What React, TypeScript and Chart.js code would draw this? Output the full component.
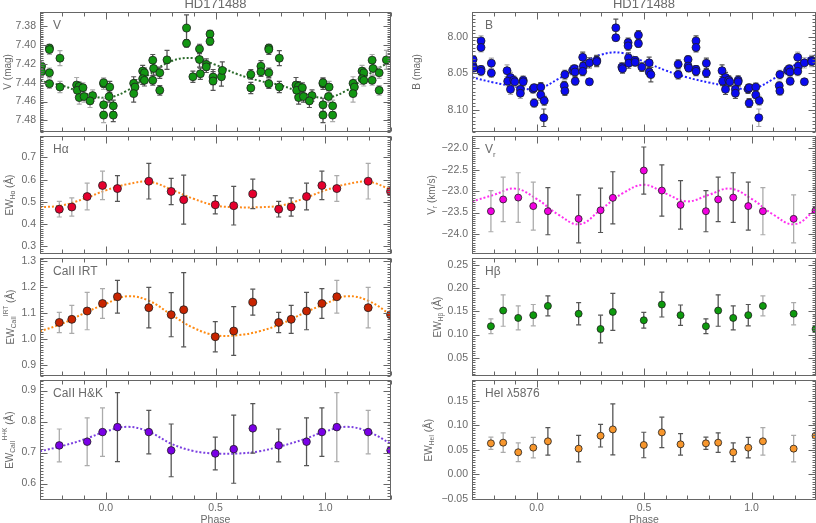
import React, { useEffect, useRef } from 'react';
import { Chart, registerables } from 'chart.js';

Chart.register(...registerables);

const X_MIN = -0.3;
const X_MAX = 1.3;
const FONT = '"Liberation Sans", Arial, sans-serif';
const TXT = '#6a6a6a';
const AXIS = '#666666';

// ---------- photometry (one rotation, folded in phase) ----------
const vPhase = [
  0.990, 0.990, 0.990, 0.990, 0.018, 0.015, 0.034, 0.034, 0.127, 0.133, 0.127,
  0.168, 0.176, 0.168, 0.176, 0.214, 0.218, 0.214, 0.246, 0.246, 0.279,
  0.368, 0.368, 0.397, 0.427, 0.427, 0.431, 0.458, 0.458, 0.475, 0.475,
  0.489, 0.489, 0.527, 0.531, 0.661, 0.661, 0.707, 0.707, 0.743, 0.743,
  0.743, 0.743, 0.791, 0.791, 0.867, 0.878, 0.870, 0.896, 0.879, 0.901,
  0.940, 0.928,
];
const vMag = [
  7.4411, 7.4400, 7.4635, 7.4744, 7.4446, 7.4547, 7.4646, 7.4744, 7.4407, 7.4446, 7.4516,
  7.4277, 7.4295, 7.4358, 7.4375, 7.4161, 7.4249, 7.4375, 7.4295, 7.4481, 7.4158,
  7.3821, 7.3982, 7.4337, 7.4042, 7.4154, 7.4305, 7.4207, 7.4232, 7.3884, 7.3961,
  7.4340, 7.4382, 7.4337, 7.4270, 7.4312, 7.4456, 7.4225, 7.4284, 7.4032, 7.4049,
  7.4295, 7.4411, 7.4140, 7.4446, 7.4425, 7.4439, 7.4481, 7.4453, 7.4558, 7.4547,
  7.4537, 7.4593,
];
const vErr = [
  0.006, 0.005, 0.007, 0.008, 0.006, 0.006, 0.006, 0.007, 0.007, 0.008, 0.009,
  0.006, 0.005, 0.006, 0.006, 0.006, 0.007, 0.005, 0.006, 0.005, 0.010,
  0.014, 0.004, 0.006, 0.005, 0.008, 0.006, 0.006, 0.006, 0.004, 0.004,
  0.008, 0.010, 0.010, 0.009, 0.005, 0.006, 0.006, 0.005, 0.004, 0.005,
  0.005, 0.005, 0.008, 0.006, 0.008, 0.005, 0.006, 0.005, 0.007, 0.006,
  0.006, 0.007,
];

const bPhase = [
  0.984, 0.989, 0.020, 0.020, 0.036, 0.989, 0.034, 0.132, 0.129, 0.132,
  0.168, 0.176, 0.179, 0.180, 0.215, 0.218, 0.215, 0.246, 0.246, 0.280,
  0.280, 0.369, 0.369, 0.397, 0.400, 0.426, 0.426, 0.428, 0.429, 0.459,
  0.459, 0.474, 0.474, 0.490, 0.524, 0.524, 0.532, 0.659, 0.659, 0.705,
  0.705, 0.708, 0.742, 0.742, 0.742, 0.742, 0.790, 0.790, 0.863, 0.879,
  0.866, 0.894, 0.899, 0.879, 0.925, 0.938, 0.938, 0.925,
];
const bMag = [
  8.0715, 8.0697, 8.0688, 8.0796, 8.0876, 8.0908, 8.1109, 8.0518, 8.0670, 8.0742,
  8.0460, 8.0437, 8.0482, 8.0608, 8.0280, 8.0401, 8.0473, 8.0357, 8.0616, 8.0325,
  8.0339, 7.9877, 8.0012, 8.0415, 8.0437, 8.0079, 8.0124, 8.0289, 8.0361, 8.0325,
  8.0348, 7.9976, 8.0092, 8.0415, 8.0357, 8.0482, 8.0518, 8.0375, 8.0518, 8.0312,
  8.0401, 8.0428, 8.0056, 8.0146, 8.0446, 8.0473, 8.0361, 8.0496, 8.0464, 8.0558,
  8.0608, 8.0594, 8.0616, 8.0720, 8.0720, 8.0594, 8.0616, 8.0773,
];
const bErr = [
  0.006, 0.005, 0.006, 0.007, 0.006, 0.006, 0.012, 0.006, 0.006, 0.006,
  0.006, 0.005, 0.006, 0.005, 0.007, 0.008, 0.006, 0.007, 0.004, 0.007,
  0.007, 0.012, 0.004, 0.006, 0.006, 0.006, 0.006, 0.007, 0.007, 0.005,
  0.005, 0.006, 0.005, 0.006, 0.008, 0.006, 0.010, 0.006, 0.006, 0.005,
  0.006, 0.005, 0.007, 0.006, 0.005, 0.006, 0.007, 0.006, 0.008, 0.007,
  0.006, 0.006, 0.006, 0.007, 0.006, 0.006, 0.006, 0.007,
];

// ---------- spectra ----------
const specPhase = [0.053, 0.196, 0.298, 0.355, 0.499, 0.583, 0.670, 0.788, 0.845, 0.915, 0.985];
const hkPhase = [0.053, 0.196, 0.298, 0.499, 0.583, 0.670, 0.788, 0.915, 0.985];

const haEW = [0.560, 0.593, 0.547, 0.510, 0.487, 0.483, 0.536, 0.467, 0.477, 0.524, 0.574];
const haErr = [0.058, 0.080, 0.059, 0.110, 0.041, 0.087, 0.066, 0.035, 0.041, 0.060, 0.064];

const irtEW = [1.164, 1.122, 1.095, 1.114, 1.010, 1.032, 1.143, 1.065, 1.077, 1.109, 1.138];
const irtErr = [0.063, 0.078, 0.085, 0.143, 0.058, 0.094, 0.050, 0.039, 0.054, 0.072, 0.057];

const hkEW = [0.782, 0.766, 0.707, 0.697, 0.711, 0.778, 0.723, 0.735, 0.766];
const hkErr = [0.111, 0.070, 0.085, 0.053, 0.110, 0.080, 0.053, 0.077, 0.078];

const vrKms = [-23.468, -23.647, -23.446, -23.156, -22.517, -22.985, -23.320, -23.468, -23.193, -23.149, -23.349];
const vrErr = [0.55, 0.56, 0.52, 0.61, 0.55, 0.60, 0.565, 0.48, 0.52, 0.58, 0.56];

const hbEW = [0.162, 0.145, 0.112, 0.149, 0.131, 0.165, 0.142, 0.118, 0.152, 0.136, 0.142];
const hbErr = [0.0215, 0.024, 0.030, 0.040, 0.017, 0.027, 0.022, 0.016, 0.034, 0.026, 0.023];

const heEW = [0.0676, 0.0527, 0.079, 0.0919, 0.0601, 0.0858, 0.0615, 0.0635, 0.0649, 0.0453, 0.0547];
const heErr = [0.028, 0.027, 0.023, 0.052, 0.026, 0.031, 0.022, 0.0125, 0.020, 0.019, 0.021];

// ---------- fitted curves, read at phase steps of 0.1 ----------
const fitPhase = [0, 0.1, 0.2, 0.3, 0.4, 0.5, 0.6, 0.7, 0.8, 0.9];
const vFit = [7.456, 7.448, 7.431, 7.417, 7.414, 7.421, 7.431, 7.438, 7.443, 7.451];
const bFit = [8.0715, 8.058, 8.0388, 8.0245, 8.0222, 8.034, 8.046, 8.0555, 8.0625, 8.068];
const haFit = [0.552, 0.580, 0.590, 0.555, 0.514, 0.484, 0.476, 0.476, 0.484, 0.514];
const irtFit = [1.137, 1.166, 1.147, 1.094, 1.044, 1.016, 1.016, 1.031, 1.060, 1.100];
const hkFit = [0.768, 0.783, 0.766, 0.728, 0.705, 0.697, 0.697, 0.704, 0.721, 0.742];
const vrFit = [-23.178, -23.543, -23.773, -23.424, -23.052, -22.851, -23.052, -23.238, -23.089, -22.94];

type Rich = { t: string; s?: 'sub' | 'sup' }[];

interface PanelDef {
  col: number;
  row: number;
  phase: number[];
  values: number[];
  errors: number[];
  fit?: number[];
  yMin: number;
  yMax: number;
  yStep: number;
  decimals: number;
  reverse?: boolean;
  color: string;
  fitColor?: string;
  radius: number;
  label: Rich;
  yTitle: Rich;
  yTitleX: number;
  title?: string;
}

const COLS = [
  { left: 0, width: 400, yAxisW: 40, padRight: 9 },
  { left: 400, width: 424, yAxisW: 72, padRight: 8 },
];
const ROWS = [
  [12, 134],
  [134, 256],
  [256, 378],
  [378, 500],
];

const PANELS: PanelDef[] = [
  {
    col: 0, row: 0, phase: vPhase, values: vMag, errors: vErr, fit: vFit,
    yMin: 7.365, yMax: 7.492, yStep: 0.02, decimals: 2, reverse: true,
    color: '#129612', fitColor: '#2b6b2b', radius: 4,
    label: [{ t: 'V' }], yTitle: [{ t: 'V (mag)' }], yTitleX: 8, title: 'HD171488',
  },
  {
    col: 0, row: 1, phase: specPhase, values: haEW, errors: haErr, fit: haFit,
    yMin: 0.267, yMax: 0.795, yStep: 0.1, decimals: 1,
    color: '#e5002d', fitColor: '#ff8a1c', radius: 4,
    label: [{ t: 'Hα' }], yTitle: [{ t: 'EW' }, { t: 'Hα', s: 'sub' }, { t: ' (Å)' }], yTitleX: 10,
  },
  {
    col: 0, row: 2, phase: specPhase, values: irtEW, errors: irtErr, fit: irtFit,
    yMin: 0.86, yMax: 1.312, yStep: 0.1, decimals: 1,
    color: '#c82400', fitColor: '#ff8a10', radius: 4,
    label: [{ t: 'CaII IRT' }],
    yTitle: [{ t: 'EW' }, { t: 'CaII', s: 'sub' }, { t: 'IRT', s: 'sup' }, { t: ' (Å)' }], yTitleX: 11,
  },
  {
    col: 0, row: 3, phase: hkPhase, values: hkEW, errors: hkErr, fit: hkFit,
    yMin: 0.547, yMax: 0.933, yStep: 0.1, decimals: 1,
    color: '#7a00e6', fitColor: '#7b3fe0', radius: 3.8,
    label: [{ t: 'CaII H&K' }],
    yTitle: [{ t: 'EW' }, { t: 'CaII', s: 'sub' }, { t: 'H+K', s: 'sup' }, { t: ' (Å)' }], yTitleX: 10,
  },
  {
    col: 1, row: 0, phase: bPhase, values: bMag, errors: bErr, fit: bFit,
    yMin: 7.966, yMax: 8.13, yStep: 0.05, decimals: 2, reverse: true,
    color: '#0a0af0', fitColor: '#2323ff', radius: 4,
    label: [{ t: 'B' }], yTitle: [{ t: 'B (mag)' }], yTitleX: 17, title: 'HD171488',
  },
  {
    col: 1, row: 1, phase: specPhase, values: vrKms, errors: vrErr, fit: vrFit,
    yMin: -24.461, yMax: -21.717, yStep: 0.5, decimals: 1,
    color: '#f200e0', fitColor: '#ff30f0', radius: 3.5,
    label: [{ t: 'V' }, { t: 'r', s: 'sub' }],
    yTitle: [{ t: 'V' }, { t: 'r', s: 'sub' }, { t: ' (km/s)' }], yTitleX: 32,
  },
  {
    col: 1, row: 2, phase: specPhase, values: hbEW, errors: hbErr,
    yMin: 0.011, yMax: 0.265, yStep: 0.05, decimals: 2,
    color: '#0d9a0d', radius: 3.5,
    label: [{ t: 'Hβ' }], yTitle: [{ t: 'EW' }, { t: 'Hβ', s: 'sub' }, { t: ' (Å)' }], yTitleX: 38,
  },
  {
    col: 1, row: 3, phase: specPhase, values: heEW, errors: heErr,
    yMin: -0.052, yMax: 0.192, yStep: 0.05, decimals: 2,
    color: '#f7962c', radius: 3.5,
    label: [{ t: 'HeI λ5876' }], yTitle: [{ t: 'EW' }, { t: 'HeI', s: 'sub' }, { t: ' (Å)' }], yTitleX: 29,
  },
];

interface FoldedPoint { x: number; y: number; i: number; copy: boolean }

// repeat each phase one cycle earlier / later where it falls in the plotted range
function fold(phase: number[], values: number[]): FoldedPoint[] {
  const out: FoldedPoint[] = [];
  phase.forEach((p, i) => {
    [-1, 0, 1].forEach((k) => {
      const x = p + k;
      if (x >= X_MIN - 0.001 && x <= X_MAX + 0.001) out.push({ x, y: values[i], i, copy: k !== 0 });
    });
  });
  return out;
}

function errorBars(pts: FoldedPoint[], errors: number[], copy: boolean) {
  const out: { x: number; y: number | null }[] = [];
  pts.filter((p) => p.copy === copy).forEach((p) => {
    out.push({ x: p.x, y: p.y - errors[p.i] }, { x: p.x, y: p.y + errors[p.i] }, { x: p.x, y: null });
  });
  return out;
}

function drawRich(ctx: CanvasRenderingContext2D, parts: Rich, x: number, y: number, size: number, align: 'left' | 'center') {
  const small = size * 0.66;
  let w = 0;
  parts.forEach((p) => {
    ctx.font = `${p.s ? small : size}px ${FONT}`;
    w += ctx.measureText(p.t).width;
  });
  let cx = align === 'center' ? x - w / 2 : x;
  ctx.textAlign = 'left';
  parts.forEach((p) => {
    ctx.font = `${p.s ? small : size}px ${FONT}`;
    const dy = p.s === 'sub' ? size * 0.32 : p.s === 'sup' ? -size * 0.45 : 0;
    ctx.fillText(p.t, cx, y + dy);
    cx += ctx.measureText(p.t).width;
  });
}

function Panel({ def }: { def: PanelDef }) {
  const canvasRef = useRef<HTMLCanvasElement | null>(null);
  const col = COLS[def.col];
  const [rowTop, rowBottom] = ROWS[def.row];
  const padTop = def.row === 0 ? rowTop : 8;
  const isBottom = def.row === ROWS.length - 1;
  const xAxisH = isBottom ? 30 : 0;
  const height = padTop + (rowBottom - rowTop) + xAxisH + 8;
  const top = rowTop - padTop;

  useEffect(() => {
    if (!canvasRef.current) return;

    const pts = fold(def.phase, def.values);
    const datasets: any[] = [
      {
        data: pts.map((p) => ({ x: p.x, y: p.y })),
        showLine: false,
        pointRadius: def.radius,
        pointHoverRadius: def.radius,
        pointBackgroundColor: def.color,
        pointBorderColor: '#1e1e1e',
        pointBorderWidth: 0.8,
      },
      {
        data: errorBars(pts, def.errors, false),
        showLine: true,
        spanGaps: false,
        borderColor: '#555555',
        borderWidth: 1.3,
        pointStyle: 'line',
        pointRadius: 2.5,
        pointBorderColor: '#555555',
        pointBorderWidth: 1.2,
      },
      {
        data: errorBars(pts, def.errors, true),
        showLine: true,
        spanGaps: false,
        borderColor: '#ababab',
        borderWidth: 1.3,
        pointStyle: 'line',
        pointRadius: 2.5,
        pointBorderColor: '#ababab',
        pointBorderWidth: 1.2,
      },
    ];
    if (def.fit) {
      datasets.push({
        data: fold(fitPhase, def.fit).sort((a, b) => a.x - b.x).map((p) => ({ x: p.x, y: p.y })),
        showLine: true,
        borderColor: def.fitColor,
        borderWidth: 2,
        borderDash: [2, 2],
        pointRadius: 0,
        tension: 0.4,
      });
    }

    const deco = {
      id: 'deco',
      afterDraw(chart: Chart) {
        const { ctx, chartArea: a } = chart;
        const xs = chart.scales.x;
        const ys = chart.scales.y;
        const L = Math.round(a.left) + 0.5;
        const R = Math.round(a.right) - 0.5;
        const T = Math.round(a.top) + 0.5;
        const B = Math.round(a.bottom) - 0.5;
        ctx.save();
        ctx.strokeStyle = AXIS;
        ctx.lineWidth = 1;
        ctx.strokeRect(L, T, R - L, B - T);
        ctx.beginPath();
        for (let k = -3; k <= 13; k++) {
          const px = Math.round(xs.getPixelForValue(k / 10)) + 0.5;
          const len = k % 5 === 0 ? 7 : 4;
          ctx.moveTo(px, B);
          ctx.lineTo(px, B - len);
          ctx.moveTo(px, T);
          ctx.lineTo(px, T + len);
        }
        const minor = def.yStep / 10;
        for (let k = Math.ceil(def.yMin / minor - 1e-6); k * minor <= def.yMax; k++) {
          const py = Math.round(ys.getPixelForValue(k * minor)) + 0.5;
          const len = k % 10 === 0 ? 7 : 3;
          ctx.moveTo(L, py);
          ctx.lineTo(L + len, py);
          ctx.moveTo(R, py);
          ctx.lineTo(R - len, py);
        }
        ctx.stroke();

        ctx.fillStyle = TXT;
        ctx.textBaseline = 'alphabetic';
        drawRich(ctx, def.label, a.left + 13, a.top + 17, 12, 'left');

        ctx.save();
        ctx.translate(def.yTitleX, (a.top + a.bottom) / 2);
        ctx.rotate(-Math.PI / 2);
        ctx.textBaseline = 'middle';
        drawRich(ctx, def.yTitle, 0, 0, 10, 'center');
        ctx.restore();

        if (def.title) {
          ctx.font = `13px ${FONT}`;
          ctx.textAlign = 'center';
          ctx.textBaseline = 'alphabetic';
          ctx.fillText(def.title, (a.left + a.right) / 2, 7.5);
        }
        ctx.restore();
      },
    };

    const fmt = (v: number | string, d: number) => Number(v).toFixed(d).replace('-', '\u2212');

    const chart = new Chart(canvasRef.current, {
      type: 'scatter',
      data: { datasets },
      options: {
        animation: false,
        responsive: false,
        maintainAspectRatio: false,
        events: [],
        layout: { padding: { top: padTop, bottom: 8, left: 0, right: col.padRight } },
        plugins: { legend: { display: false }, tooltip: { enabled: false } },
        scales: {
          x: {
            type: 'linear',
            min: X_MIN,
            max: X_MAX,
            display: isBottom,
            grid: { display: false, drawTicks: false },
            border: { display: false },
            ticks: {
              stepSize: 0.5,
              includeBounds: false,
              padding: 2,
              color: TXT,
              font: { family: FONT, size: 10.5 },
              callback: (v) => fmt(v, 1),
            },
            title: {
              display: true,
              text: 'Phase',
              color: TXT,
              font: { family: FONT, size: 10.5 },
              padding: { top: 0, bottom: 4 },
            },
            afterFit: (s) => {
              s.height = xAxisH;
            },
          },
          y: {
            type: 'linear',
            min: def.yMin,
            max: def.yMax,
            reverse: !!def.reverse,
            grid: { display: false, drawTicks: false },
            border: { display: false },
            ticks: {
              stepSize: def.yStep,
              includeBounds: false,
              padding: 4,
              color: TXT,
              font: { family: FONT, size: 10.5 },
              callback: (v) => fmt(v, def.decimals),
            },
            afterFit: (s) => {
              s.width = col.yAxisW;
            },
          },
        },
      },
      plugins: [deco],
    });

    return () => {
      chart.destroy();
    };
  }, [def]);

  return (
    <canvas
      ref={canvasRef}
      width={col.width}
      height={height}
      style={{ position: 'absolute', left: col.left, top, width: col.width, height }}
    />
  );
}

export default function App() {
  return (
    <div
      style={{
        position: 'fixed',
        left: 0,
        top: 0,
        width: 816,
        height: 523,
        overflow: 'hidden',
        background: '#ffffff',
      }}
    >
      {PANELS.map((p) => (
        <Panel key={`${p.col}-${p.row}`} def={p} />
      ))}
    </div>
  );
}
